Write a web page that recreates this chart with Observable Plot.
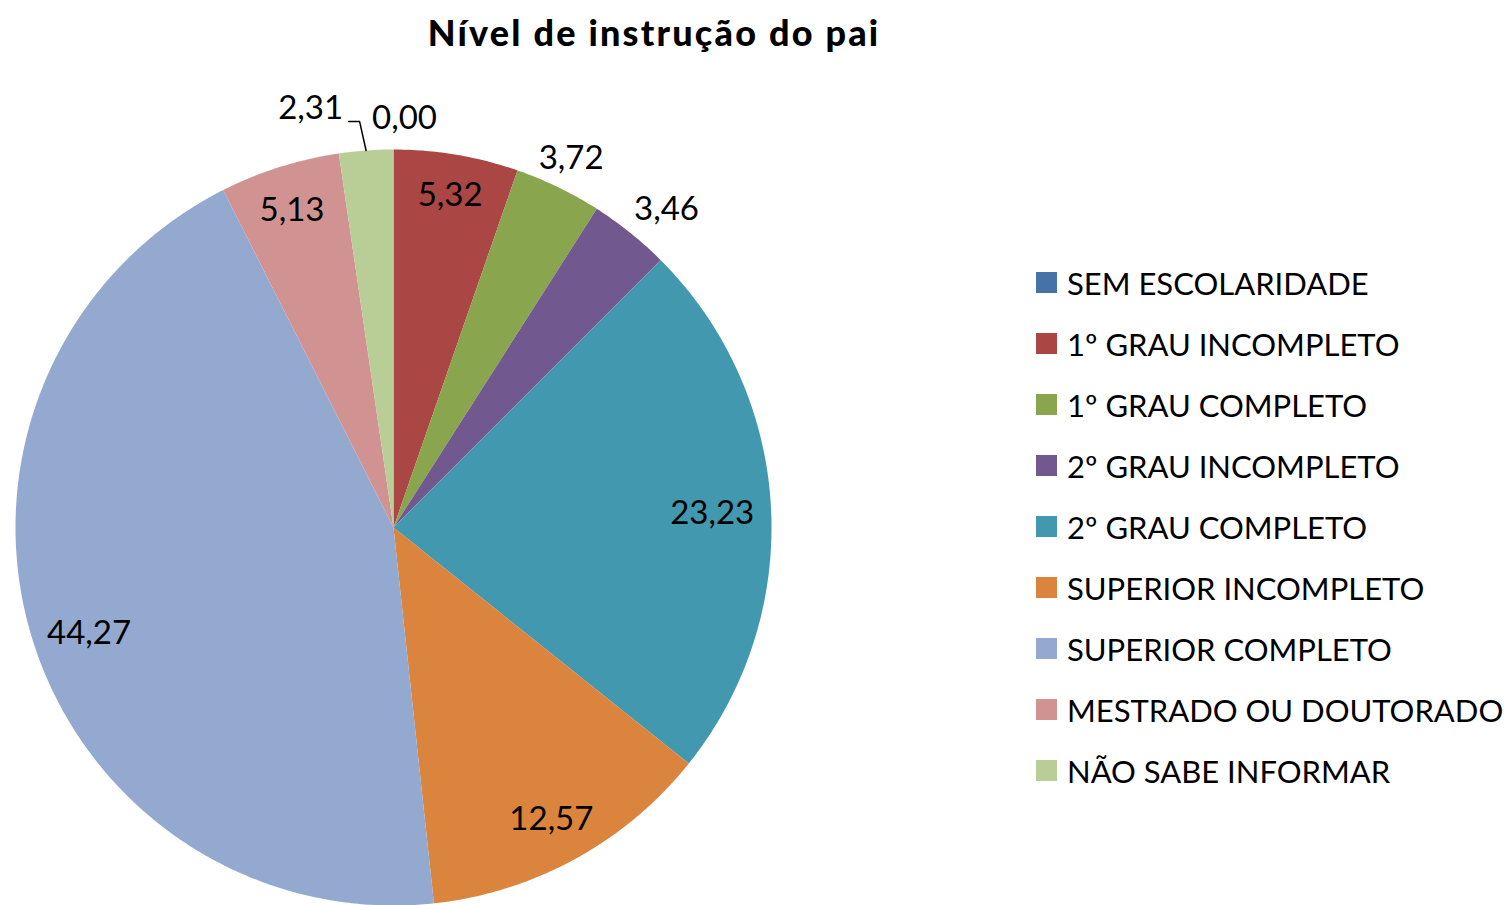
<!DOCTYPE html>
<html>
<head>
<meta charset="utf-8">
<script src="https://cdn.jsdelivr.net/npm/d3@7"></script>
<script src="https://cdn.jsdelivr.net/npm/@observablehq/plot@0.6"></script>
<style>
  html, body { margin: 0; padding: 0; background: #fff; }
  #wrap { position: relative; width: 1511px; height: 905px; overflow: hidden; font-family: Lato, "Open Sans", sans-serif; }
  #title { position: absolute; left: 0; width: 1308px; top: 9px; text-align: center; font-family: Lato, sans-serif; font-weight: 900; font-size: 36px; letter-spacing: 2.2px; color: #000; line-height: 46px; }
  #legend { position: absolute; left: 1036px; top: 252px; }
  .row { display: flex; align-items: center; height: 61px; font-size: 31px; color: #000; white-space: nowrap; }
  .sw { width: 21px; height: 21px; margin-right: 10px; flex: none; }
  #chart { position: absolute; left: 0; top: 0; }
</style>
</head>
<body>
<div id="wrap">
  <div id="chart"></div>
  <div id="title"></div>
  <div id="legend"></div>
</div>
<script>
const title = "Nível de instrução do pai";
const categories = [
  "SEM ESCOLARIDADE",
  "1º GRAU INCOMPLETO",
  "1º GRAU COMPLETO",
  "2º GRAU INCOMPLETO",
  "2º GRAU COMPLETO",
  "SUPERIOR INCOMPLETO",
  "SUPERIOR COMPLETO",
  "MESTRADO OU DOUTORADO",
  "NÃO SABE INFORMAR"
];
const values = [0.00, 5.32, 3.72, 3.46, 23.23, 12.57, 44.27, 5.13, 2.31];
const colors = ["#4572A7", "#AA4643", "#89A54E", "#71588F", "#4198AF", "#DB843D", "#93A9CF", "#D19392", "#B9CD96"];
const outsideLabels = ["SEM ESCOLARIDADE", "1º GRAU COMPLETO", "2º GRAU INCOMPLETO", "NÃO SABE INFORMAR"];

// layout (pixels)
const W = 1511, H = 905, CX = 393, CY = 527, R = 378;
const px = 1 / R; // one pixel in pie units

const data = categories.map((c, i) => ({cat: c, value: values[i]}));
const arcs = d3.pie().sort(null).value(d => d.value)(data);

// slice polygons
const poly = [];
arcs.forEach(a => {
  if (a.endAngle - a.startAngle <= 0) return;
  const cat = a.data.cat;
  poly.push({cat, x: 0, y: 0});
  const n = Math.max(2, Math.ceil((a.endAngle - a.startAngle) / (Math.PI / 360)));
  for (let k = 0; k <= n; k++) {
    const t = a.startAngle + (a.endAngle - a.startAngle) * k / n;
    poly.push({cat, x: Math.sin(t), y: Math.cos(t)});
  }
});

// labels
const fmt = v => v.toFixed(2).replace(".", ",");
const nudge = {"SEM ESCOLARIDADE": [11, 3], "NÃO SABE INFORMAR": [-53, -8], "2º GRAU INCOMPLETO": [15, 3], "1º GRAU COMPLETO": [-2, 2], "SUPERIOR COMPLETO": [0, 12]};
const labels = arcs.map(a => {
  const mid = (a.startAngle + a.endAngle) / 2;
  const text = fmt(a.data.value);
  const out = outsideLabels.includes(a.data.cat);
  let rpx, ny = 0;
  if (out) rpx = 1.09 * R;
  else {
    const hw = text.length * 8.2, hh = 15;
    rpx = R - 17 - (hw * Math.abs(Math.sin(mid)) + hh * Math.abs(Math.cos(mid)));
    ny = 4;
  }
  const [ndx, ndy] = nudge[a.data.cat] || [0, 0];
  return {cat: a.data.cat, text, mid,
    x: (rpx * Math.sin(mid) + ndx) * px, y: (rpx * Math.cos(mid) - ndy - ny) * px};
});

// leader line for the displaced label
const leader = [];
labels.filter(l => l.cat === "NÃO SABE INFORMAR").forEach(l => {
  const edge = {x: Math.sin(l.mid), y: Math.cos(l.mid)};
  const endX = l.x + 38 * px, endY = l.y - 13 * px;
  leader.push({x: edge.x, y: edge.y}, {x: endX + 11 * px, y: endY}, {x: endX, y: endY});
});

const chart = Plot.plot({
  width: W, height: H,
  margin: 0,
  x: {domain: [-CX / R, (W - CX) / R], axis: null},
  y: {domain: [-(H - CY) / R, CY / R], axis: null},
  color: {domain: categories, range: colors},
  style: {fontFamily: "Lato, 'Open Sans', sans-serif", background: "white"},
  marks: [
    Plot.line(poly, {x: "x", y: "y", z: "cat", fill: "cat", stroke: "none", curve: "linear-closed"}),
    Plot.line(leader, {x: "x", y: "y", stroke: "black", strokeWidth: 1.5}),
    Plot.text(labels, {x: "x", y: "y", text: "text", fontSize: 33, fill: "black"})
  ]
});
document.getElementById("chart").appendChild(chart);

document.getElementById("title").textContent = title;
const legend = d3.select("#legend");
categories.forEach((c, i) => {
  const row = legend.append("div").attr("class", "row");
  row.append("div").attr("class", "sw").style("background", colors[i]);
  row.append("span").text(c);
});
</script>
</body>
</html>
